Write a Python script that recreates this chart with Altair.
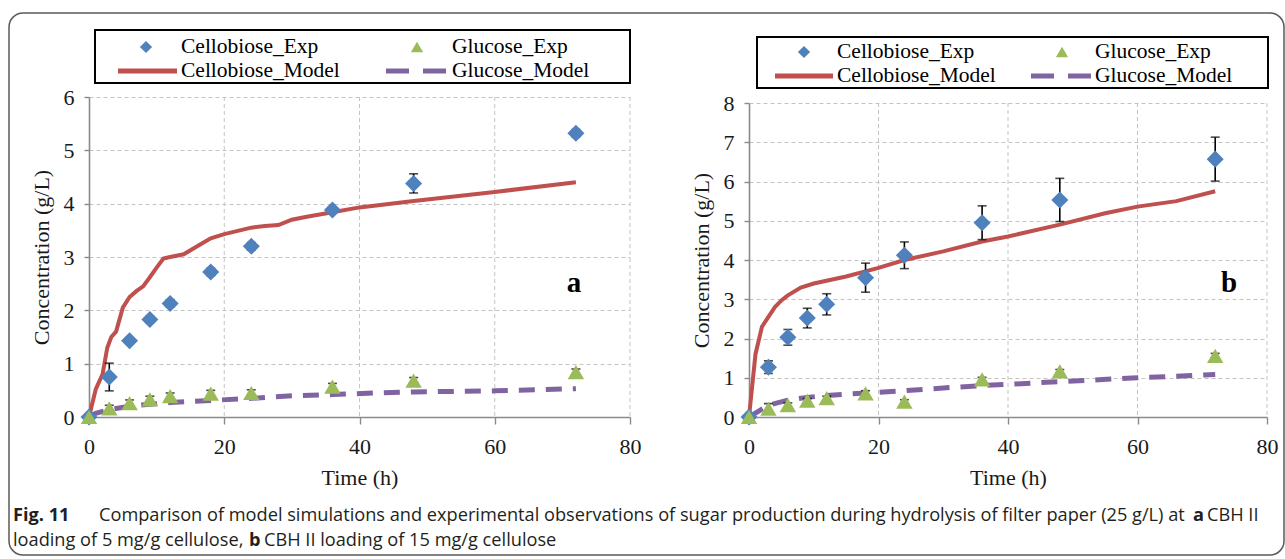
import altair as alt
import pandas as pd

SERIF = "Liberation Serif"
SANS = "Open Sans"

BLUE = "#4f81bd"
GREEN = "#9bbb59"
RED = "#c0504d"
PURPLE = "#8064a2"

# ---------------- data ----------------
time_exp = [0, 3, 6, 9, 12, 18, 24, 36, 48, 72]

# panel a: CBH II 5 mg/g
cello_exp_a = [0.0, 0.75, 1.43, 1.83, 2.13, 2.72, 3.20, 3.88, 4.38, 5.32]
cello_err_a = [0.0, 0.26, 0.06, 0.06, 0.07, 0.07, 0.07, 0.06, 0.18, 0.07]
gluc_exp_a = [0.0, 0.16, 0.26, 0.33, 0.39, 0.44, 0.45, 0.57, 0.68, 0.84]
gluc_err_a = [0.0, 0.06, 0.06, 0.06, 0.06, 0.06, 0.06, 0.06, 0.06, 0.06]
cello_model_t_a = [0, 1, 2, 2.7, 3.3, 4, 5, 6, 7, 8, 9, 10, 11, 12, 14, 16, 18, 20,
                   22, 24, 26, 28, 30, 32, 36, 40, 48, 60, 72]
cello_model_a = [0, 0.52, 0.8, 1.3, 1.5, 1.6, 2.05, 2.25, 2.36, 2.45, 2.62, 2.8, 2.97,
                 3.0, 3.05, 3.2, 3.35, 3.43, 3.49, 3.55, 3.58, 3.6, 3.7, 3.75, 3.84,
                 3.93, 4.05, 4.22, 4.4]
gluc_model_t_a = [0, 1, 3, 6, 9, 12, 18, 24, 30, 36, 42, 48, 54, 60, 66, 72]
gluc_model_a = [0, 0.07, 0.14, 0.2, 0.24, 0.27, 0.31, 0.35, 0.4, 0.42, 0.45, 0.47,
                0.48, 0.49, 0.51, 0.53]

# panel b: CBH II 15 mg/g
cello_exp_b = [0.0, 1.27, 2.03, 2.52, 2.87, 3.55, 4.12, 4.95, 5.53, 6.57]
cello_err_b = [0.0, 0.16, 0.2, 0.25, 0.27, 0.37, 0.34, 0.43, 0.55, 0.56]
gluc_exp_b = [0.0, 0.21, 0.3, 0.42, 0.48, 0.6, 0.39, 0.96, 1.16, 1.56]
gluc_err_b = [0.0, 0.13, 0.06, 0.05, 0.05, 0.07, 0.05, 0.05, 0.05, 0.06]
cello_model_t_b = [0, 1, 2, 3, 4, 5, 6, 8, 10, 15, 20, 24, 30, 36, 40, 48, 55, 60, 66, 72]
cello_model_b = [0, 1.6, 2.3, 2.55, 2.8, 2.97, 3.1, 3.3, 3.4, 3.58, 3.8, 4.0, 4.22,
                 4.47, 4.6, 4.9, 5.19, 5.36, 5.5, 5.75]
gluc_model_t_b = [0, 1, 3, 6, 9, 12, 18, 24, 30, 36, 42, 48, 54, 60, 66, 72]
gluc_model_b = [0, 0.1, 0.3, 0.43, 0.5, 0.55, 0.61, 0.67, 0.74, 0.8, 0.85, 0.9, 0.95,
                1.0, 1.04, 1.08]

x_ticks = [0, 20, 40, 60, 80]
y_ticks_a = [0, 1, 2, 3, 4, 5, 6]
y_ticks_b = [0, 1, 2, 3, 4, 5, 6, 7, 8]

series_names = ["Cellobiose_Exp", "Glucose_Exp", "Cellobiose_Model", "Glucose_Model"]

caption_line1 = ["Fig. 11",
                 "Comparison of model simulations and experimental observations of sugar production during hydrolysis of filter paper (25 g/L) at",
                 "a", "CBH II"]
caption_line2 = ["loading of 5 mg/g cellulose,", "b", "CBH II loading of 15 mg/g cellulose"]

AXIS_GRAY = "#8a8a8a"
GRID = "#c4c4c4"
TXT = "#1a1a1a"


def x_axis():
    return alt.Axis(values=x_ticks, title="Time (h)", grid=False, tickSize=7,
                    labelPadding=12, titlePadding=10, labelFlush=False)


def y_axis(ticks):
    return alt.Axis(values=ticks, title="Concentration (g/L)", grid=True,
                    gridColor=GRID, gridDash=[4, 3], gridWidth=1, tickSize=5,
                    labelPadding=10, titlePadding=10)


def panel(c_exp, c_err, g_exp, g_err, mt_c, m_c, mt_g, m_g, ymax, yticks, width,
          yrange, leg, letter, letter_xy, extra=None):
    xs = alt.Scale(domain=[0, 80], nice=False)
    if yrange is not None:
        ys = alt.Scale(domain=[0, ymax], nice=False, range=yrange)
    else:
        ys = alt.Scale(domain=[0, ymax], nice=False)
    X = alt.X("t:Q", scale=xs, axis=x_axis())
    Y = alt.Y("v:Q", scale=ys, axis=y_axis(yticks))

    vgrid = alt.Chart(pd.DataFrame({"t": x_ticks[1:]})).mark_rule(
        color=GRID, strokeDash=[4, 3], strokeWidth=1
    ).encode(x=X, y=alt.YDatum(ymax, scale=ys, axis=y_axis(yticks)),
             y2=alt.Y2Datum(0))

    cm = alt.Chart(pd.DataFrame({"t": mt_c, "v": m_c})).mark_line(
        color=RED, strokeWidth=4).encode(x=X, y=Y)
    gm = alt.Chart(pd.DataFrame({"t": mt_g, "v": m_g})).mark_line(
        color=PURPLE, strokeWidth=5, strokeDash=[16, 11]).encode(x=X, y=Y)

    err_rows = []
    for vals, errs in ((c_exp, c_err), (g_exp, g_err)):
        for t, v, e in zip(time_exp, vals, errs):
            if e > 0:
                err_rows.append({"t": t, "lo": v - e, "hi": v + e})
    err_df = pd.DataFrame(err_rows)
    whisk = alt.Chart(err_df).mark_rule(color="black", strokeWidth=1.6).encode(
        x=X, y=alt.Y("lo:Q", scale=ys, axis=y_axis(yticks)), y2="hi:Q")
    cap_rows = [{"t": r["t"], "v": r[k]} for r in err_rows for k in ("lo", "hi")]
    caps = alt.Chart(pd.DataFrame(cap_rows)).mark_tick(
        color="black", orient="horizontal", size=9, thickness=1.6).encode(x=X, y=Y)

    cp = alt.Chart(pd.DataFrame({"t": time_exp, "v": c_exp})).mark_point(
        shape="diamond", filled=True, size=290, color=BLUE, opacity=1).encode(x=X, y=Y)
    gp = alt.Chart(pd.DataFrame({"t": time_exp, "v": g_exp})).mark_point(
        shape="triangle-up", filled=True, size=270, color=GREEN, opacity=1).encode(x=X, y=Y)

    layers = [vgrid, cm, gm, whisk, caps, cp, gp]

    # legend (boxed two-column key above the plot)
    bx0, bx1, by0, by1, r1, r2, c1sym, c1l0, c1l1, c1lab, c2sym, c2l0, c2l1, c2lab = leg
    one = lambda s: pd.DataFrame({"label": [s]})
    layers.append(alt.Chart(one("box")).mark_rect(
        fillOpacity=0, stroke="black", strokeWidth=2).encode(
        x=alt.value(bx0), x2=alt.value(bx1), y=alt.value(by0), y2=alt.value(by1)))
    layers.append(alt.Chart(one(series_names[0])).mark_point(
        shape="diamond", filled=True, size=150, color=BLUE, opacity=1).encode(
        x=alt.value(c1sym), y=alt.value(r1)))
    layers.append(alt.Chart(one(series_names[1])).mark_point(
        shape="triangle-up", filled=True, size=150, color=GREEN, opacity=1).encode(
        x=alt.value(c2sym), y=alt.value(r1)))
    layers.append(alt.Chart(one(series_names[2])).mark_rule(
        color=RED, strokeWidth=5).encode(
        x=alt.value(c1l0), x2=alt.value(c1l1), y=alt.value(r2)))
    layers.append(alt.Chart(one(series_names[3])).mark_rule(
        color=PURPLE, strokeWidth=5, strokeDash=[23, 14]).encode(
        x=alt.value(c2l0), x2=alt.value(c2l1), y=alt.value(r2)))
    for name, xx, yy in ((series_names[0], c1lab, r1), (series_names[2], c1lab, r2),
                         (series_names[1], c2lab, r1), (series_names[3], c2lab, r2)):
        layers.append(alt.Chart(one(name)).mark_text(
            align="left", baseline="middle", font=SERIF, fontSize=21.5,
            color="black").encode(x=alt.value(xx), y=alt.value(yy), text="label:N"))

    layers.append(alt.Chart(one(letter)).mark_text(
        font=SERIF, fontSize=29, fontWeight="bold", color="black",
        baseline="middle", align="center").encode(
        x=alt.value(letter_xy[0]), y=alt.value(letter_xy[1]), text="label:N"))

    if extra:
        layers += extra
    return alt.layer(*layers).properties(width=width, height=320)


# figure frame and caption (attached to the left panel)
frame = alt.Chart(pd.DataFrame({"label": ["frame"]})).mark_rect(
    fillOpacity=0, stroke="#5a5a5a", strokeWidth=1.5, cornerRadius=14).encode(
    x=alt.value(-80), x2=alt.value(1195), y=alt.value(-84), y2=alt.value(458))

CAP_SIZE = 18.2


def cap_text(s, x, y, bold):
    return alt.Chart(pd.DataFrame({"label": [s]})).mark_text(
        align="left", baseline="middle", font=SANS, fontSize=CAP_SIZE,
        fontWeight="bold" if bold else "normal", color="#231f20").encode(
        x=alt.value(x), y=alt.value(y), text="label:N")


caption = [
    cap_text(caption_line1[0], -76, 419, True),
    cap_text(caption_line1[1], 10, 419, False),
    cap_text(caption_line1[2], 1104, 419, True),
    cap_text(caption_line1[3], 1118, 419, False),
    cap_text(caption_line2[0], -76, 444, False),
    cap_text(caption_line2[1], 160, 444, True),
    cap_text(caption_line2[2], 175, 444, False),
]

left = panel(cello_exp_a, cello_err_a, gluc_exp_a, gluc_err_a,
             cello_model_t_a, cello_model_a, gluc_model_t_a, gluc_model_a,
             6, y_ticks_a, 541, None,
             (6, 541, -67, -14, -50, -26, 57, 29, 88, 92, 328, 297, 361, 363),
             "a", (485, 186), extra=[frame] + caption)

right = panel(cello_exp_b, cello_err_b, gluc_exp_b, gluc_err_b,
              cello_model_t_b, cello_model_b, gluc_model_t_b, gluc_model_b,
              8, y_ticks_b, 518, [320, 6],
              (8, 519, -60, -9, -45, -21, 55, 26, 84, 88, 313, 282, 342, 346),
              "b", (480, 186))

chart = alt.hconcat(left, right, spacing=119, bounds="flush").properties(
    padding={"left": 8, "top": 12, "right": 0, "bottom": 0},
    background="white",
).configure_view(stroke=None).configure_axis(
    domainColor=AXIS_GRAY, domainWidth=1.6, tickColor=AXIS_GRAY, tickWidth=1.4,
    labelFont=SERIF, labelFontSize=22, labelColor=TXT,
    titleFont=SERIF, titleFontSize=22, titleFontWeight="normal", titleColor=TXT,
)

chart.save("out.html", embed_options={"renderer": "svg", "actions": False})
